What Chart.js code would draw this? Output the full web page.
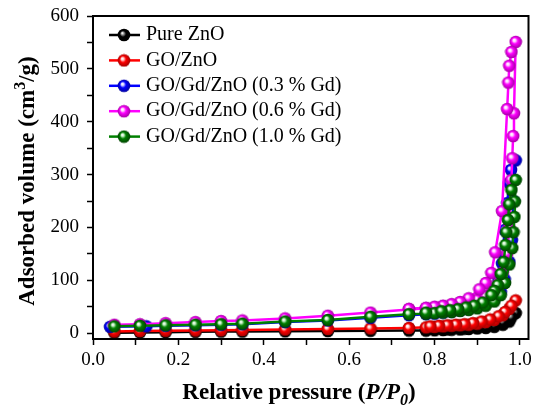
<!DOCTYPE html>
<html>
<head>
<meta charset="utf-8">
<script src="https://cdn.jsdelivr.net/npm/chart.js@4.4.0/dist/chart.umd.min.js"></script>
<style>
  html, body { margin: 0; padding: 0; background: #fff; }
</style>
</head>
<body>
<canvas id="myChart" width="537" height="407"></canvas>
<script>
// serie e nomi in legenda
var labels = ['Pure ZnO', 'GO/ZnO', 'GO/Gd/ZnO (0.3 % Gd)', 'GO/Gd/ZnO (0.6 % Gd)', 'GO/Gd/ZnO (1.0 % Gd)'];

// isoterme: ramo di adsorbimento seguito dal ramo di desorbimento
var pureP = [0.05,0.11,0.17,0.24,0.30,0.35,0.45,0.55,0.65,0.74,0.78,0.80,0.82,0.84,0.86,0.88,0.90,0.92,0.94,0.96,0.975,0.99,
             0.98,0.96,0.94,0.92,0.90,0.87,0.83,0.78];
var pureV = [1,1.5,2,2.5,3,3,3.5,4,4.5,5,5,5.5,6,6.5,7,8,9,10,12,16,22,38,
             30,21,15,12,10,8.5,7,6];

var goP = [0.05,0.11,0.17,0.24,0.30,0.35,0.45,0.55,0.65,0.74,0.78,0.80,0.82,0.84,0.86,0.88,0.90,0.92,0.94,0.96,0.975,0.99,
           0.98,0.965,0.95,0.93,0.91,0.89,0.87,0.85,0.83,0.81,0.79];
var goV = [3,4,4.5,5,5.5,6,7,8,9,10,11,12,13,14,15,16,18,21,25,34,46,62,
           52,40,32,26,22,19,17,16,15,14,13];

var gd3P = [0.04,0.125,0.17,0.24,0.30,0.35,0.45,0.55,0.65,0.74,0.78,0.80,0.82,0.84,0.86,0.88,0.90,0.92,0.94,0.955,0.964,0.975,0.981,0.985,0.99,
            0.979,0.975,0.97,0.964,0.96,0.958,0.95,0.94,0.92,0.90,0.87,0.84,0.81,0.78];
var gd3V = [12,13,14,15,16,17,21,24,29,34,36,37,39,41,43,46,50,56,64,78,102,135,176,250,327,
            309,284,246,195,151,132,100,82,64,56,50,46,42,39];

var gd6P = [0.05,0.11,0.17,0.24,0.30,0.35,0.45,0.55,0.65,0.74,0.78,0.80,0.82,0.84,0.86,0.88,0.90,0.92,0.935,0.95,0.96,0.97,0.975,0.98,0.982,0.984,0.986,0.99,
            0.98,0.975,0.973,0.97,0.958,0.942,0.933,0.92,0.905,0.88,0.86,0.84,0.82,0.80,0.78,0.74];
var gd6V = [16,17,19,21,23,24,28,33,39,45,47,49,51,53,55,58,63,70,80,95,115,150,200,290,331,373,416,551,
            532,506,474,424,231,153,114,95,83,66,59,55,52,50,48,46];

var gd10P = [0.05,0.11,0.17,0.24,0.30,0.35,0.45,0.55,0.65,0.74,0.78,0.80,0.82,0.84,0.86,0.88,0.90,0.92,0.94,0.955,0.965,0.975,0.982,0.985,0.987,0.988,0.99,
             0.98,0.975,0.972,0.968,0.966,0.962,0.955,0.948,0.94,0.933,0.913,0.893,0.874,0.855,0.836,0.816,0.78];
var gd10V = [13,14,15,16,17,18,22,25,31,36,37,38,39,40,42,44,47,52,60,72,95,130,161,191,220,249,290,
             271,244,214,191,167,135,112,91,80,72,58,52,48.6,45.4,43.5,41.6,39];

var colori = ['#000000', '#ff0000', '#0000ff', '#ff00ff', '#008000'];
var scuri = ['#000000', '#a00000', '#00009a', '#a000a0', '#004000'];
var chiari = ['#9a9a9a', '#ffd0d0', '#d0d0ff', '#ffd8ff', '#c8f0c8'];

var serif = "'Liberation Serif', 'Times New Roman', serif";

// pallina con riflesso, usata come pointStyle
function makeBall(i) {
  var c = document.createElement('canvas');
  c.width = 14;
  c.height = 14;
  var g = c.getContext('2d');
  var grd = g.createRadialGradient(5.2, 5, 0.3, 7, 7, 6.5);
  grd.addColorStop(0, '#ffffff');
  grd.addColorStop(0.18, chiari[i]);
  grd.addColorStop(0.45, colori[i]);
  grd.addColorStop(1, scuri[i]);
  g.fillStyle = grd;
  g.beginPath();
  g.arc(7, 7, 6.3, 0, 2 * Math.PI);
  g.fill();
  return c;
}

function punti(px, py) {
  var out = [];
  for (var i = 0; i < px.length; i++) {
    out.push({x: px[i], y: py[i]});
  }
  return out;
}

var serieP = [pureP, goP, gd3P, gd6P, gd10P];
var serieV = [pureV, goV, gd3V, gd6V, gd10V];
var palline = [];
var datasets = [];
for (var i = 0; i < labels.length; i++) {
  palline.push(makeBall(i));
  datasets.push({
    label: labels[i],
    data: punti(serieP[i], serieV[i]),
    showLine: true,
    borderColor: colori[i],
    borderWidth: 2.5,
    pointStyle: palline[i],
    pointRadius: 6,
    order: labels.length - i
  });
}

function drawParts(ctx, parts, x, y) {
  for (var i = 0; i < parts.length; i++) {
    var p = parts[i];
    ctx.font = p.font;
    ctx.fillText(p.text, x, y + (p.dy || 0));
    x += ctx.measureText(p.text).width;
  }
}

function partsWidth(ctx, parts) {
  var w = 0;
  for (var i = 0; i < parts.length; i++) {
    ctx.font = parts[i].font;
    w += ctx.measureText(parts[i].text).width;
  }
  return w;
}

var cornice = {
  id: 'cornice',
  afterDraw: function(chart) {
    var ctx = chart.ctx;
    var a = chart.chartArea;
    ctx.save();
    ctx.strokeStyle = '#000';
    ctx.lineWidth = 2;
    ctx.strokeRect(a.left, a.top, a.right - a.left, a.bottom - a.top);

    // legenda
    for (var i = 0; i < labels.length; i++) {
      var y = 35 + i * 25.4;
      ctx.strokeStyle = colori[i];
      ctx.lineWidth = 2.5;
      ctx.beginPath();
      ctx.moveTo(109, y);
      ctx.lineTo(140, y);
      ctx.stroke();
      ctx.drawImage(palline[i], 124 - 7, y - 7);
      ctx.fillStyle = '#000';
      ctx.font = '20px ' + serif;
      ctx.textBaseline = 'middle';
      ctx.fillText(labels[i], 146, y);
    }

    // titoli degli assi
    ctx.fillStyle = '#000';
    ctx.textBaseline = 'alphabetic';
    var bold = 'bold 23px ' + serif;
    var xt = [
      {text: 'Relative pressure (', font: bold},
      {text: 'P/P', font: 'italic bold 23px ' + serif},
      {text: '0', font: 'italic bold 16px ' + serif, dy: 6},
      {text: ')', font: bold}
    ];
    var w = partsWidth(ctx, xt);
    drawParts(ctx, xt, 299 - w / 2, 399);

    var yt = [
      {text: 'Adsorbed volume (cm', font: bold},
      {text: '3', font: 'bold 16px ' + serif, dy: -9},
      {text: '/g)', font: bold}
    ];
    w = partsWidth(ctx, yt);
    ctx.translate(34, 181);
    ctx.rotate(-Math.PI / 2);
    drawParts(ctx, yt, -w / 2, 0);
    ctx.restore();
  }
};

var ctx = document.getElementById('myChart').getContext('2d');
var chart = new Chart(ctx, {
  type: 'scatter',
  data: { datasets: datasets },
  plugins: [cornice],
  options: {
    responsive: false,
    animation: false,
    layout: { padding: { top: 16, right: 4, left: 0, bottom: 0 } },
    plugins: {
      legend: { display: false },
      tooltip: { enabled: false }
    },
    scales: {
      x: {
        type: 'linear',
        min: 0,
        max: 1.02,
        afterFit: function(s) {
          s.height = 68;
          s.paddingLeft = 0;
          s.paddingRight = 0;
        },
        border: { display: true, color: '#000', width: 2 },
        grid: { drawOnChartArea: false, drawTicks: true, tickLength: 6, color: '#000', tickWidth: 1.5 },
        ticks: {
          stepSize: 0.1,
          includeBounds: false,
          autoSkip: false,
          maxRotation: 0,
          padding: 4,
          color: '#000',
          font: { family: serif, size: 19 },
          callback: function(v) {
            var n = Math.round(v * 10);
            return n % 2 === 0 ? (n / 10).toFixed(1) : '';
          }
        }
      },
      y: {
        min: -11,
        max: 600,
        afterFit: function(s) {
          s.width = 93;
          s.paddingTop = 0;
          s.paddingBottom = 0;
        },
        border: { display: true, color: '#000', width: 2 },
        grid: { drawOnChartArea: false, drawTicks: true, tickLength: 6, color: '#000', tickWidth: 1.5 },
        ticks: {
          stepSize: 50,
          includeBounds: false,
          autoSkip: false,
          padding: 8,
          color: '#000',
          font: { family: serif, size: 19 },
          callback: function(v) {
            return v % 100 === 0 ? String(v) : '';
          }
        }
      }
    }
  }
});
</script>
</body>
</html>
